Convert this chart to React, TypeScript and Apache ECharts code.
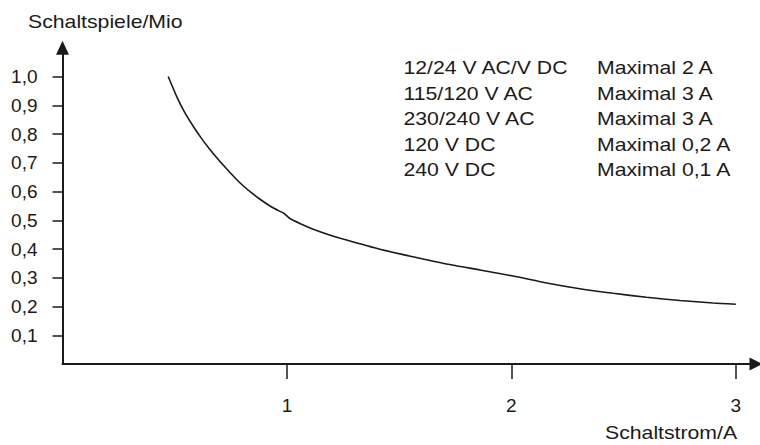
import React, { useEffect, useRef } from "react";
import * as echarts from "echarts";

const curveX = [0.471, 0.509, 0.545, 0.583, 0.62, 0.657, 0.694, 0.731, 0.768, 0.805, 0.843, 0.88, 0.93, 0.969, 0.985, 1.013, 1.06, 1.117, 1.19, 1.266, 1.414, 1.561, 1.711, 1.86, 2.008, 2.157, 2.305, 2.454, 2.602, 2.751, 2.899, 3.0];
const curveY = [1.0, 0.93, 0.874, 0.826, 0.784, 0.746, 0.711, 0.679, 0.648, 0.62, 0.595, 0.573, 0.547, 0.531, 0.525, 0.506, 0.488, 0.469, 0.449, 0.431, 0.399, 0.373, 0.348, 0.327, 0.306, 0.282, 0.262, 0.246, 0.232, 0.221, 0.212, 0.208];
const xTicks = [1, 2, 3];
const yTicks = [0.1, 0.2, 0.3, 0.4, 0.5, 0.6, 0.7, 0.8, 0.9, 1.0];
const voltages = ["12/24 V AC/V DC", "115/120 V AC", "230/240 V AC", "120 V DC", "240 V DC"];
const maxCurrents = ["Maximal 2 A", "Maximal 3 A", "Maximal 3 A", "Maximal 0,2 A", "Maximal 0,1 A"];
const yName = "Schaltspiele/Mio";
const xName = "Schaltstrom/A";

const INK = "#1a1a1a";
const FONT = "'Liberation Sans', Arial, sans-serif";
const SX = 1.18;

export default function App() {
  const ref = useRef<HTMLDivElement>(null);
  useEffect(() => {
    if (!ref.current) return;
    const chart = echarts.init(ref.current, undefined, { renderer: "svg" });
    const textStyle = (text: string) => ({ text, fill: INK, font: `18px ${FONT}`, verticalAlign: "middle", align: "left" });
    const graphics: any[] = [];
    voltages.forEach((v, i) => {
      graphics.push({ type: "text", x: 403.5, y: 68 + i * 25.5, scaleX: SX, style: textStyle(v) });
      graphics.push({ type: "text", x: 597, y: 68 + i * 25.5, scaleX: SX, style: textStyle(maxCurrents[i]) });
    });
    graphics.push({ type: "text", x: 28, y: 21.5, scaleX: SX, style: textStyle(yName) });
    graphics.push({ type: "text", x: 605, y: 432.5, scaleX: SX, style: textStyle(xName) });

    chart.setOption({
      animation: false,
      grid: { left: 62.5, right: 4, top: 47.75, bottom: 81, containLabel: false },
      xAxis: {
        type: "value",
        min: 0,
        max: 3.09,
        axisLine: { show: true, symbol: ["none", "triangle"], symbolSize: [13, 13], lineStyle: { color: INK, width: 2 } },
        axisTick: { show: true, inside: false, length: 15, customValues: xTicks, lineStyle: { color: INK, width: 1.5 } },
        axisLabel: { customValues: xTicks, margin: 32, color: INK, fontSize: 19, fontFamily: FONT },
        splitLine: { show: false },
      },
      yAxis: {
        type: "value",
        min: 0,
        max: 1.1,
        axisLine: { show: true, symbol: ["none", "triangle"], symbolSize: [13, 14], lineStyle: { color: INK, width: 2 } },
        axisTick: { show: true, inside: false, length: 10, customValues: yTicks, lineStyle: { color: INK, width: 1.5 } },
        axisLabel: {
          customValues: yTicks,
          margin: 25,
          color: INK,
          fontSize: 19,
          fontFamily: FONT,
          formatter: (v: number) => v.toFixed(1).replace(".", ","),
        },
        splitLine: { show: false },
      },
      series: [
        {
          type: "line",
          data: curveX.map((x, i) => [x, curveY[i]]),
          smooth: 0.2,
          showSymbol: false,
          lineStyle: { color: INK, width: 1.6 },
        },
      ],
      graphic: graphics,
    });
    return () => chart.dispose();
  }, []);
  return <div ref={ref} style={{ width: 760, height: 445, position: "absolute", left: 0, top: 0 }} />;
}
